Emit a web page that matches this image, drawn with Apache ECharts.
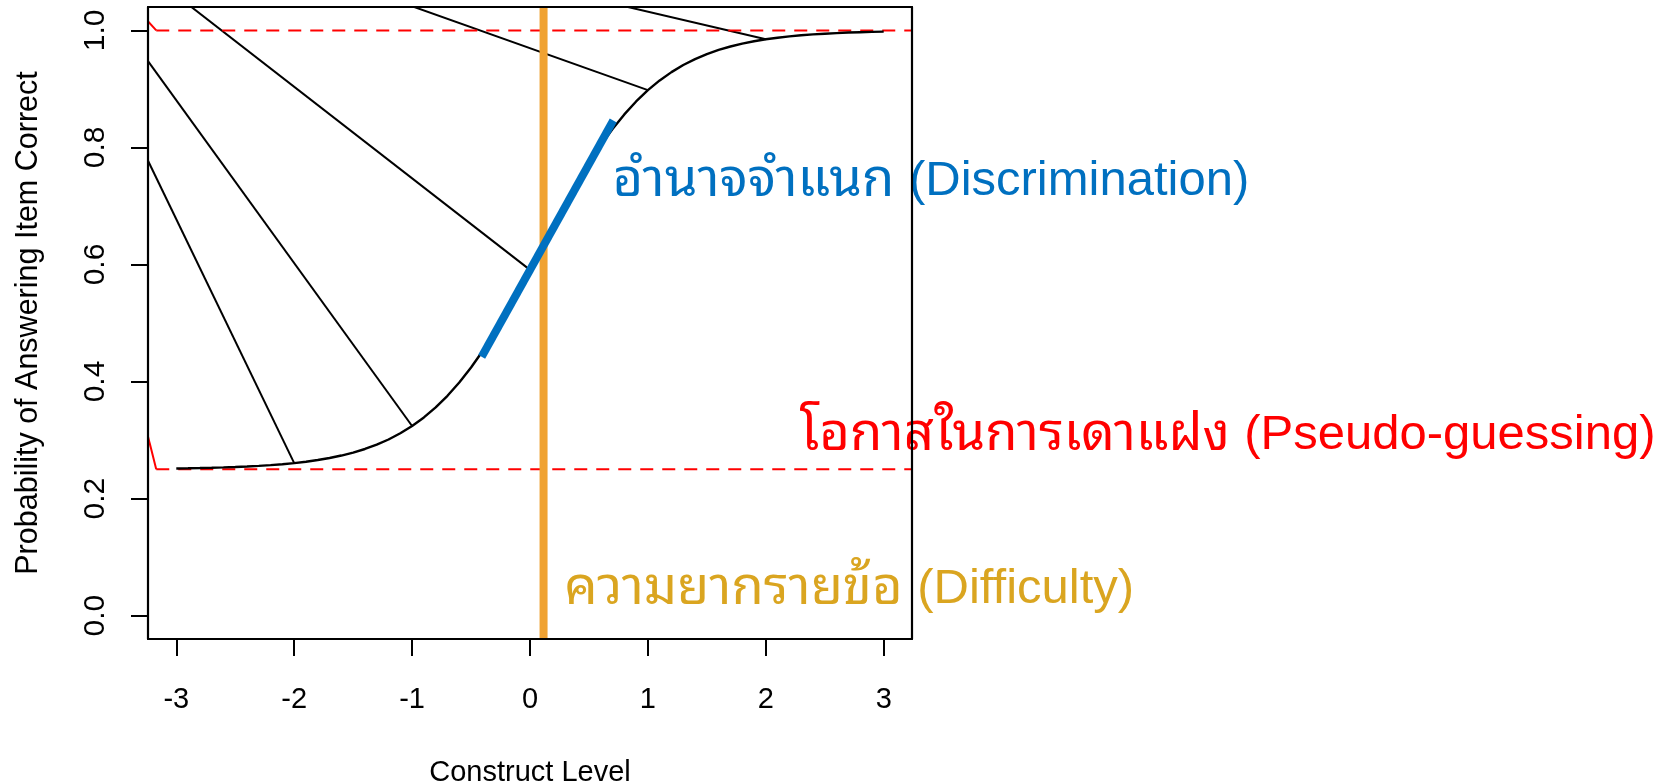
<!DOCTYPE html>
<html>
<head>
<meta charset="utf-8">
<script src="https://cdn.jsdelivr.net/npm/echarts@6/dist/echarts.min.js"></script>
<style>
html,body{margin:0;padding:0;background:#fff;}
#c{width:1657px;height:782px;}
</style>
</head>
<body>
<div id="c"></div>
<script>
// ---- data ----
const thetaGrid = [-3.0,-2.9,-2.8,-2.7,-2.6,-2.5,-2.4,-2.3,-2.2,-2.1,-2.0,-1.9,-1.8,-1.7,-1.6,-1.5,-1.4,-1.3,-1.2,-1.1,-1.0,-0.9,-0.8,-0.7,-0.6,-0.5,-0.4,-0.3,-0.2,-0.1,0.0,0.1,0.2,0.3,0.4,0.5,0.6,0.7,0.8,0.9,1.0,1.1,1.2,1.3,1.4,1.5,1.6,1.7,1.8,1.9,2.0,2.1,2.2,2.3,2.4,2.5,2.6,2.7,2.8,2.9,3.0];
const probCorrect = [0.2514,0.2517,0.2521,0.2526,0.2532,0.2539,0.2548,0.2558,0.2571,0.2587,0.2606,0.2630,0.2658,0.2693,0.2735,0.2786,0.2847,0.2921,0.3009,0.3115,0.3240,0.3386,0.3558,0.3756,0.3983,0.4239,0.4525,0.4839,0.5177,0.5535,0.5908,0.6288,0.6667,0.7037,0.7392,0.7726,0.8035,0.8315,0.8565,0.8786,0.8979,0.9145,0.9287,0.9408,0.9509,0.9595,0.9666,0.9725,0.9774,0.9814,0.9848,0.9875,0.9898,0.9917,0.9932,0.9944,0.9954,0.9963,0.9969,0.9975,0.9980];
const rayBaseX = [-2, -1, 0, 1, 2];
const rayBaseY = [0.2606, 0.3240, 0.5908, 0.8979, 0.9848];
const rayPivot = [-4.47, 1.29];
const asymptoteLevels = [1.0, 0.25];
const asymptoteStartX = -3.17;
const asymptoteEndX = 3.24;
const difficultyX = 0.115;
const slopeSegX = [-0.41, 0.706];
const slopeSegY = [0.4424, 0.846];
const xTicks = [-3, -2, -1, 0, 1, 2, 3];
const yTicks = [0, 0.2, 0.4, 0.6, 0.8, 1.0];
const annotationThai = ['อำนาจจำแนก', 'โอกาสในการเดาแฝง', 'ความยากรายข้อ'];
const annotationLatin = ['(Discrimination)', '(Pseudo-guessing)', '(Difficulty)'];
const annotationX = [0.70, 2.288, 0.29];
const annotationY = [0.741, 0.307, 0.044];
const annotationColor = ['#0070C0', '#FF0000', '#DAA520'];

// ---- chart ----
const chart = echarts.init(document.getElementById('c'), null, {renderer: 'canvas'});
const axisFont = "'Liberation Sans', Arial, sans-serif";
const thaiFont = "'Liberation Sans', Tahoma, 'Noto Sans Thai Looped', 'Noto Sans Thai', 'Leelawadee UI', sans-serif";
const XMIN = -3.24, XMAX = 3.24, YMIN = -0.04, YMAX = 1.04;

const series = [];
// rays
rayBaseX.forEach((x, i) => {
  series.push({
    type: 'line', data: [[x, rayBaseY[i]], rayPivot], symbol: 'none', clip: true,
    lineStyle: {color: '#000', width: 2}, silent: true, z: 2
  });
});
// asymptotes (solid short connector + dashed horizontal)
asymptoteLevels.forEach(level => {
  series.push({
    type: 'line', data: [rayPivot, [asymptoteStartX, level]], symbol: 'none', clip: true,
    lineStyle: {color: '#FF0000', width: 2}, silent: true, z: 2
  });
  series.push({
    type: 'line', data: [[asymptoteStartX, level], [asymptoteEndX, level]], symbol: 'none', clip: true,
    lineStyle: {color: '#FF0000', width: 2, type: [13, 9]}, silent: true, z: 2
  });
});
// ICC curve
series.push({
  type: 'line', data: thetaGrid.map((x, i) => [x, probCorrect[i]]), symbol: 'none', clip: true,
  lineStyle: {color: '#000', width: 2.4}, silent: true, z: 3
});
// difficulty
series.push({
  type: 'line', data: [[difficultyX, YMIN], [difficultyX, YMAX]], symbol: 'none', clip: true,
  lineStyle: {color: '#F0A232', width: 8, cap: 'butt'}, silent: true, z: 4
});
// discrimination
series.push({
  type: 'line', data: [[slopeSegX[0], slopeSegY[0]], [slopeSegX[1], slopeSegY[1]]], symbol: 'none', clip: true,
  lineStyle: {color: '#0070C0', width: 8, cap: 'butt'}, silent: true, z: 5
});
// annotations
annotationThai.forEach((t, i) => {
  const c = annotationColor[i];
  series.push({
    type: 'scatter', symbolSize: 0, silent: true, z: 6, clip: false,
    itemStyle: {opacity: 1},
    data: [[annotationX[i], annotationY[i]]],
    label: {
      show: true, position: 'right', distance: 0, opacity: 1,
      formatter: '{th|' + t + ' }{en|' + annotationLatin[i] + '}',
      rich: {
        th: {color: c, fontSize: 52.5, fontFamily: thaiFont},
        en: {color: c, fontSize: 49, fontFamily: axisFont}
      }
    }
  });
});

const baseAxisLine = {show: true, onZero: false, lineStyle: {color: '#000', width: 2.2}};
chart.setOption({
  animation: false,
  backgroundColor: '#fff',
  grid: {left: 148, right: 745, top: 7, bottom: 143, show: false, containLabel: false, outerBoundsMode: 'none'},
  xAxis: [{
    type: 'value', min: XMIN, max: XMAX, position: 'bottom', z: 10,
    axisLine: baseAxisLine, splitLine: {show: false},
    axisTick: {show: true, customValues: xTicks, length: 17, lineStyle: {color: '#000', width: 2}},
    axisLabel: {customValues: xTicks, fontSize: 29, fontFamily: axisFont, color: '#000', margin: 46},
    name: 'Construct Level', nameLocation: 'middle', nameGap: 119,
    nameTextStyle: {fontSize: 29, fontFamily: axisFont, color: '#000'}
  }, {
    type: 'value', min: XMIN, max: XMAX, position: 'top', z: 10,
    axisLine: baseAxisLine, splitLine: {show: false}, axisTick: {show: false}, axisLabel: {show: false}
  }],
  yAxis: [{
    type: 'value', min: YMIN, max: YMAX, position: 'left', z: 10,
    axisLine: baseAxisLine, splitLine: {show: false},
    axisTick: {show: true, customValues: yTicks, length: 17, lineStyle: {color: '#000', width: 2}},
    axisLabel: {customValues: yTicks, rotate: 90, fontSize: 30, fontFamily: axisFont, color: '#000', margin: 37,
      formatter: v => v.toFixed(1)},
    name: 'Probability of Answering Item Correct', nameLocation: 'middle', nameGap: 104, nameRotate: 90,
    nameTextStyle: {fontSize: 30.5, fontFamily: axisFont, color: '#000'}
  }, {
    type: 'value', min: YMIN, max: YMAX, position: 'right', z: 10,
    axisLine: baseAxisLine, splitLine: {show: false}, axisTick: {show: false}, axisLabel: {show: false}
  }],
  series: series
});
</script>
</body>
</html>
